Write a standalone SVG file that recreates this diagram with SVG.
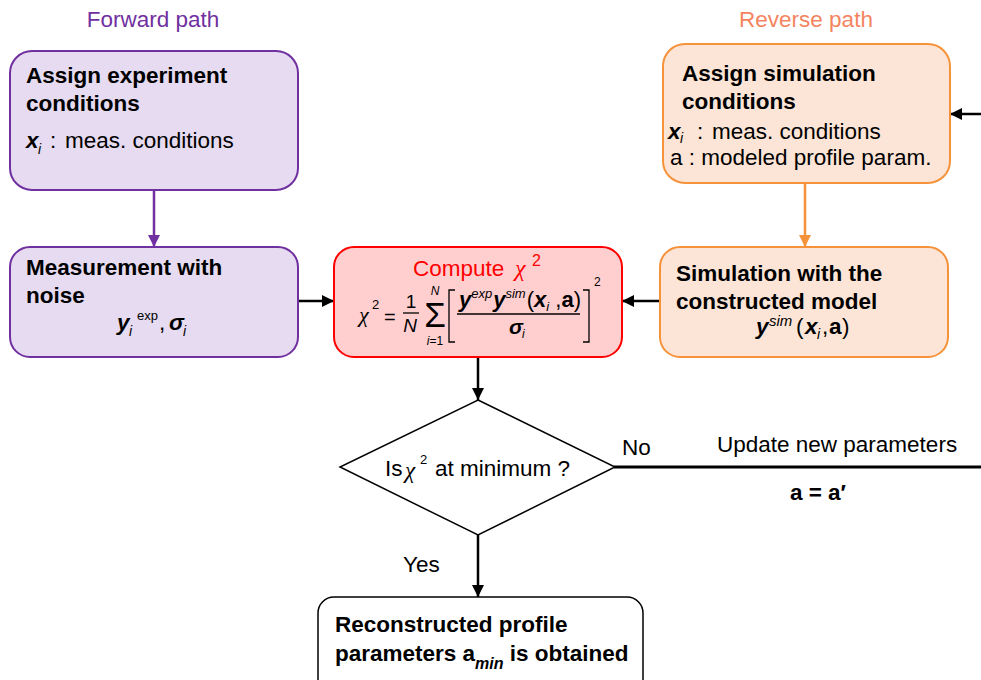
<svg xmlns="http://www.w3.org/2000/svg" width="981" height="680" viewBox="0 0 981 680">
<defs>
<style>
text{font-family:"Liberation Sans",Arial,sans-serif;font-size:22.5px;fill:#000}
.b{font-weight:bold}
.bi{font-weight:bold;font-style:italic}
.it{font-style:italic}
.ser{font-family:"Liberation Serif","Times New Roman",serif;font-style:italic}
.sub{font-size:14px;font-style:italic}
.sup{font-size:15px}
.pbox{fill:#e6dbf0;stroke:#7030a0;stroke-width:2}
.obox{fill:#fce5d6;stroke:#f5923a;stroke-width:2}
.rbox{fill:#ffcfd0;stroke:#ff0000;stroke-width:2}
.wbox{fill:#fff;stroke:#000;stroke-width:1.5}
.conn{fill:none;stroke:#000;stroke-width:2.5}
</style>
<marker id="ak" markerUnits="userSpaceOnUse" markerWidth="12" markerHeight="12" viewBox="0 0 12 12" refX="12" refY="6" orient="auto"><path d="M0,0 L12,6 L0,12 z" fill="#000"/></marker>
<marker id="ap" markerUnits="userSpaceOnUse" markerWidth="14" markerHeight="12" viewBox="0 0 14 12" refX="12" refY="6" orient="auto"><path d="M0,0 L12,6 L0,12 z" fill="#7030a0"/></marker>
<marker id="ao" markerUnits="userSpaceOnUse" markerWidth="14" markerHeight="12" viewBox="0 0 14 12" refX="12" refY="6" orient="auto"><path d="M0,0 L12,6 L0,12 z" fill="#f5923a"/></marker>
</defs>

<text x="153" y="27" text-anchor="middle" style="fill:#7030a0">Forward path</text>
<text x="806" y="27" text-anchor="middle" style="fill:#f4845f">Reverse path</text>

<g id="connectors">
<line class="conn" x1="154" y1="190" x2="154" y2="247" style="stroke:#7030a0" marker-end="url(#ap)"/>
<line class="conn" x1="805" y1="183" x2="805" y2="247" style="stroke:#f5923a" marker-end="url(#ao)"/>
<line class="conn" x1="298" y1="301" x2="334" y2="301" marker-end="url(#ak)"/>
<line class="conn" x1="660" y1="301" x2="622" y2="301" marker-end="url(#ak)"/>
<line class="conn" x1="478" y1="357" x2="478" y2="400" marker-end="url(#ak)"/>
<line class="conn" x1="614" y1="467" x2="981" y2="467" style="stroke-width:3"/>
<line class="conn" x1="981" y1="114" x2="950" y2="114" marker-end="url(#ak)"/>
<line class="conn" x1="478" y1="535" x2="478" y2="597" marker-end="url(#ak)"/>
<text x="622" y="455">No</text>
<text x="717" y="452">Update new parameters</text>
<text x="818" y="500" text-anchor="middle" class="b">a = a′</text>
<text x="403" y="572">Yes</text>
</g>

<g id="assign-experiment">
<rect class="pbox" x="10" y="51" width="288" height="139" rx="22"/>
<text x="26" y="83" class="b">Assign experiment</text>
<text x="26" y="111" class="b">conditions</text>
<text x="26" y="148" class="bi">x</text>
<text x="38" y="154" class="sub">i</text>
<text x="50" y="148">:</text>
<text x="65" y="148">meas. conditions</text>
</g>

<g id="measurement">
<rect class="pbox" x="10" y="247" width="288" height="110" rx="20"/>
<text x="26" y="275" class="b">Measurement with</text>
<text x="26" y="303" class="b">noise</text>
<text x="117" y="330" class="bi">y</text>
<text x="129" y="336" class="sub">i</text>
<text x="137" y="320" style="font-size:13px">exp</text>
<text x="159" y="330">,</text>
<text x="169" y="330" class="bi">σ</text>
<text x="183" y="336" class="sub">i</text>
</g>

<g id="compute">
<rect class="rbox" x="334" y="247" width="288" height="110" rx="20"/>
<text x="413" y="276" style="fill:#ff0000">Compute</text>
<text x="515" y="276" class="ser" style="fill:#ff0000;font-size:24px">χ</text>
<text x="532" y="266" style="fill:#ff0000;font-size:16px">2</text>
<text x="359" y="322" class="ser" style="font-size:22px">χ</text>
<text x="372" y="309" style="font-size:13px">2</text>
<text x="384" y="324" style="font-size:20px">=</text>
<text x="411" y="308" text-anchor="middle" style="font-size:19px">1</text>
<line x1="403" y1="313" x2="419" y2="313" stroke="#000" stroke-width="1.3"/>
<text x="410" y="332" text-anchor="middle" class="it" style="font-size:19px">N</text>
<text x="435" y="295" text-anchor="middle" class="it" style="font-size:12px">N</text>
<text x="435" y="327" text-anchor="middle" style="font-size:35px">Σ</text>
<text x="435" y="345" text-anchor="middle" style="font-size:12px"><tspan class="it">i</tspan>=1</text>
<polyline points="455,290 449,290 449,342 455,342" fill="none" stroke="#000" stroke-width="1.3"/>
<polyline points="583,290 589,290 589,342 583,342" fill="none" stroke="#000" stroke-width="1.3"/>
<text x="594" y="286" style="font-size:12px">2</text>
<text x="459" y="307" style="font-size:22px"><tspan class="bi">y</tspan><tspan class="it" dy="-9" style="font-size:13px">exp</tspan><tspan class="bi" dy="9" dx="1">y</tspan><tspan class="it" dy="-9" style="font-size:13px">sim</tspan><tspan dy="9" dx="1">(</tspan><tspan class="bi">x</tspan><tspan class="it" dy="4" style="font-size:13px">i</tspan><tspan dy="-4"> ,</tspan><tspan class="b">a</tspan><tspan>)</tspan></text>
<line x1="457" y1="314" x2="580" y2="314" stroke="#000" stroke-width="1.5"/>
<text x="509" y="334" class="bi" style="font-size:21px">σ</text>
<text x="522" y="338" class="sub" style="font-size:12px">i</text>
</g>

<g id="assign-simulation">
<rect class="obox" x="663" y="44" width="287" height="139" rx="22"/>
<text x="682" y="81" class="b">Assign simulation</text>
<text x="682" y="109" class="b">conditions</text>
<text x="668" y="139" class="bi">x</text>
<text x="680" y="143" class="sub">i</text>
<text x="697" y="139">:</text>
<text x="712" y="139">meas. conditions</text>
<text x="670" y="165">a : modeled profile param.</text>
</g>

<g id="simulation">
<rect class="obox" x="660" y="247" width="288" height="110" rx="20"/>
<text x="676" y="281" class="b">Simulation with the</text>
<text x="676" y="309" class="b">constructed model</text>
<text x="756" y="334" class="bi">y</text>
<text x="769" y="326" class="sup it">sim</text>
<text x="796" y="334">(</text>
<text x="805" y="334" class="bi">x</text>
<text x="817" y="339" class="sub">i</text>
<text x="822" y="334">,</text>
<text x="829" y="334" class="b">a</text>
<text x="842" y="334">)</text>
</g>

<g id="decision">
<polygon points="478,400 615,467 478,535 340,467" fill="#fff" stroke="#000" stroke-width="1.5"/>
<text x="385" y="476">Is</text>
<text x="405" y="478" class="ser" style="font-size:23px">χ</text>
<text x="420" y="464" style="font-size:13px">2</text>
<text x="435" y="476">at minimum ?</text>
</g>

<g id="result">
<rect class="wbox" x="318" y="597" width="325" height="100" rx="16"/>
<text x="335" y="632" class="b">Reconstructed profile</text>
<text x="335" y="661" class="b">parameters a<tspan class="it" dy="8" style="font-size:16px">min</tspan><tspan dy="-8"> is obtained</tspan></text>
</g>
</svg>
